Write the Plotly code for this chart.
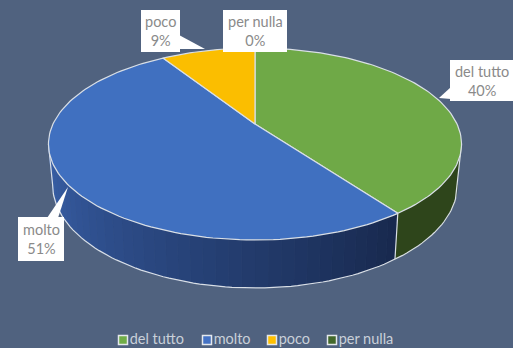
import numpy as np
import plotly.graph_objects as go

# Survey answers and their shares in percent
categories = ["del tutto", "molto", "poco", "per nulla"]
shares = [40, 51, 9, 0]

TOP_COLORS = ["#6fa947", "#4070c0", "#fbbe00", "#43682b"]
SWATCH_COLORS = ["#70ad47", "#4472c4", "#ffc000", "#43682b"]
BG = "#50627f"
EDGE = "#d9dfe6"
TEXT = "#8a8a8a"
FONT = "Lato"
FONT_SIZE = 14.5

# Perspective projection of the pie disc onto the page (pixel space)
CX, HUB_Y, TILT = 255.0, 124.0, 0.2083


def project(angle_deg, scale=1.0, y0=HUB_Y):
    """Clockwise angle from north -> page coordinates of a rim point."""
    t = np.radians(angle_deg)
    u, v = np.sin(t), np.cos(t)
    d = 1 + TILT * v
    return CX + scale * 202 * u / d, (y0 - scale * 66 * v) / d


def top_rim(a):
    return project(a)


def bottom_rim(a):
    return project(a, scale=0.98, y0=163.3)


def arc(start, stop, rim):
    n = max(int(abs(stop - start) / 1.5), 2)
    return rim(np.linspace(start, stop, n))


def side_shade(angle):
    """Blue wall colour: dark at the front right, lighter towards the left."""
    f = np.clip((angle - 144) / (258 - 144), 0, 1)
    dark, light = np.array([24, 41, 78]), np.array([58, 98, 172])
    r, g, b = (dark + (light - dark) * f).astype(int)
    return f"rgb({r},{g},{b})"


fig = go.Figure()

# Slice boundaries derived from the shares
bounds = np.concatenate([[0], np.cumsum(shares)]) * 360.0 / sum(shares)
RIGHT_LIMB, LEFT_LIMB = 102.0, 258.0

# Side wall: a dark green part and a blue part shaded step by step
wall_split = float(bounds[1])
steps = [(RIGHT_LIMB, wall_split, "rgb(46,69,27)")]
edges = np.arange(wall_split, LEFT_LIMB, 3.0).tolist() + [LEFT_LIMB]
steps += [(s, e, side_shade((s + e) / 2)) for s, e in zip(edges[:-1], edges[1:])]
for s, e, col in steps:
    tx, ty = arc(s, e, top_rim)
    bx, by = arc(e, s, bottom_rim)
    fig.add_trace(go.Scatter(
        x=np.concatenate([tx, bx]), y=np.concatenate([ty, by]),
        mode="lines", fill="toself", fillcolor=col,
        line=dict(color=col, width=0.8), hoverinfo="skip", showlegend=False,
    ))

# Outer silhouette of the wall and the seam between its two colours
bx, by = arc(RIGHT_LIMB, LEFT_LIMB, bottom_rim)
tr, tl = top_rim(RIGHT_LIMB), top_rim(LEFT_LIMB)
st, sb = top_rim(wall_split), bottom_rim(wall_split)
fig.add_trace(go.Scatter(
    x=np.concatenate([[tr[0]], bx, [tl[0]], [np.nan], [st[0], sb[0]]]),
    y=np.concatenate([[tr[1]], by, [tl[1]], [np.nan], [st[1], sb[1]]]),
    mode="lines", line=dict(color=EDGE, width=1.2), hoverinfo="skip", showlegend=False,
))

# Top face, one wedge per answer
for name, color, start, stop in zip(categories, TOP_COLORS, bounds[:-1], bounds[1:]):
    if stop <= start:
        continue
    rx, ry = arc(start, stop, top_rim)
    fig.add_trace(go.Scatter(
        x=np.concatenate([[CX], rx, [CX]]), y=np.concatenate([[HUB_Y], ry, [HUB_Y]]),
        mode="lines", fill="toself", fillcolor=color,
        line=dict(color=EDGE, width=1.2), name=name, showlegend=False,
    ))

# Legend row along the bottom edge
legend_swatch_x = [123, 207, 272, 332]
fig.add_trace(go.Scatter(
    x=legend_swatch_x, y=[340] * 4, mode="markers+text",
    marker=dict(symbol="square", size=9, color=SWATCH_COLORS, line=dict(color="#e4e8ec", width=1.5)),
    text=categories, textposition="middle right",
    textfont=dict(family=FONT, size=FONT_SIZE, color="#c9d0d9"),
    hoverinfo="skip", showlegend=False, cliponaxis=False,
))

# Callout boxes: (left, top, right, bottom) and pointer triangle
callouts = {
    "del tutto": ((450, 60, 513, 101), "M439,98 L451,87 L451,99 Z"),
    "molto": ((18, 217, 64, 261), "M68,187 L47,218 L58,218 Z"),
    "poco": ((141, 10, 180, 52), "M205,49 L179,35 L179,49 Z"),
    "per nulla": ((223, 10, 287, 52), None),
}
shapes, annotations = [], []
for name, value in zip(categories, shares):
    (x0, y0, x1, y1), pointer = callouts[name]
    shapes.append(dict(type="rect", xref="x", yref="y", x0=x0, y0=y0, x1=x1, y1=y1,
                       fillcolor="white", line=dict(width=0), layer="above"))
    if pointer:
        shapes.append(dict(type="path", xref="x", yref="y", path=pointer,
                           fillcolor="white", line=dict(width=0), layer="above"))
    annotations.append(dict(x=(x0 + x1) / 2, y=(y0 + y1) / 2, xref="x", yref="y",
                            text=f"{name}<br>{value}%", showarrow=False, align="center",
                            font=dict(family=FONT, size=FONT_SIZE, color=TEXT)))

fig.update_layout(
    width=513, height=348, margin=dict(l=0, r=0, t=0, b=0),
    paper_bgcolor=BG, plot_bgcolor=BG,
    xaxis=dict(range=[0, 513], visible=False, fixedrange=True),
    yaxis=dict(range=[348, 0], visible=False, fixedrange=True),
    shapes=shapes, annotations=annotations, showlegend=False,
)
fig.write_html("out.html")
